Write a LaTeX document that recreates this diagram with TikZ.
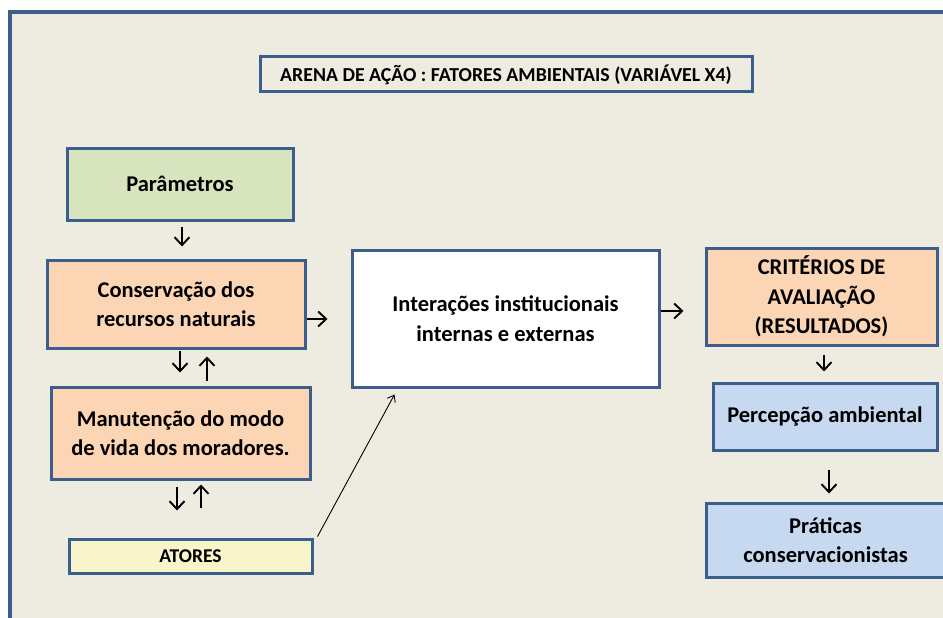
\documentclass[tikz,border=0pt]{standalone}
\usepackage{fontspec}
\setmainfont{Carlito}
\usetikzlibrary{arrows.meta}
\definecolor{bgc}{HTML}{EEECE1}
\definecolor{bord}{HTML}{3B5E8C}
\definecolor{greenf}{HTML}{D7E4BD}
\definecolor{peachf}{HTML}{FCD5B5}
\definecolor{yellowf}{HTML}{F8F5CA}
\definecolor{bluef}{HTML}{C6D9F1}
\begin{document}
\begin{tikzpicture}[x=1pt,y=-1pt,
  box/.style={draw=bord, line width=3pt, inner sep=0pt, align=center,
    font=\bfseries\fontsize{22.5}{29.5}\selectfont},
  arr/.style={line width=1.9pt, -{Straight Barb[length=8pt,width=15pt]}},
  thinarr/.style={line width=0.9pt, -{Straight Barb[length=6pt,width=9pt]}}]
\useasboundingbox (0,0) rectangle (943,618);
\clip (0,0) rectangle (943,618);
\fill[white] (0,0) rectangle (943,618);
\draw[draw=bord, fill=bgc, line width=3.2pt] (10,12) rectangle (960,640);

\node[box, fill=bgc, minimum width=492pt, minimum height=35pt,
  font=\bfseries\fontsize{19.8}{23}\selectfont] (title) at (506,74.5)
  {ARENA DE AÇÃO : FATORES AMBIENTAIS (VARIÁVEL X4)};

\node[box, fill=greenf, minimum width=226pt, minimum height=72pt] (par) at (180,184) {Parâmetros};
\node[box, fill=peachf, minimum width=258pt, minimum height=88pt] (con) at (176,304) {Conservação dos\\recursos naturais};
\node[box, fill=peachf, minimum width=259pt, minimum height=92pt] (man) at (180.5,433) {Manutenção do modo\\de vida dos moradores.};
\node[box, fill=yellowf, minimum width=243pt, minimum height=34pt,
  font=\bfseries\fontsize{19.5}{23}\selectfont] (ato) at (190.5,556) {ATORES};
\node[box, fill=white, minimum width=307pt, minimum height=137pt] (int) at (505.5,318.5) {Interações institucionais\\internas e externas};
\node[box, fill=peachf, minimum width=231pt, minimum height=97pt] (cri) at (821.5,296.5) {CRITÉRIOS DE\\AVALIAÇÃO\\(RESULTADOS)};
\node[box, fill=bluef, minimum width=224pt, minimum height=67pt] (per) at (825,416.5) {Percepção ambiental};
\node[box, fill=bluef, minimum width=239pt, minimum height=74pt] (pra) at (825.5,540) {Práticas\\conservacionistas};

% arrows
\draw[arr, shorten <=5pt, shorten >=12pt] ([xshift=2pt]par.south) -- ([xshift=2pt]par.south |- con.north);
\draw[arr, shorten >=23pt] ([yshift=-15pt]con.east) -- ([yshift=-15pt]con.east -| int.west);
\draw[arr, shorten <=1pt, shorten >=13pt] ([xshift=4pt]con.south) -- ([xshift=4pt]con.south |- man.north);
\draw[arr, shorten <=5pt, shorten >=7pt] ([xshift=31pt]con.south |- man.north) -- ([xshift=31pt]con.south);
\draw[arr, shorten <=6pt, shorten >=27pt] ([xshift=-3.5pt]man.south) -- ([xshift=-3.5pt]man.south |- ato.north);
\draw[arr, shorten <=30pt, shorten >=4pt] ([xshift=20.5pt]man.south |- ato.north) -- ([xshift=20.5pt]man.south);
\draw[thinarr] ([xshift=4pt,yshift=1pt]ato.north east) -- ([xshift=44pt,yshift=-6pt]int.south west);
\draw[arr, shorten >=21pt] ([yshift=7.5pt]int.east) -- ([yshift=7.5pt]int.east -| cri.west);
\draw[arr, shorten <=8pt, shorten >=10pt] ([xshift=2.5pt]cri.south) -- ([xshift=2.5pt]cri.south |- per.north);
\draw[arr, shorten <=18pt, shorten >=8pt] ([xshift=4pt]per.south) -- ([xshift=4pt]per.south |- pra.north);
\end{tikzpicture}
\end{document}
